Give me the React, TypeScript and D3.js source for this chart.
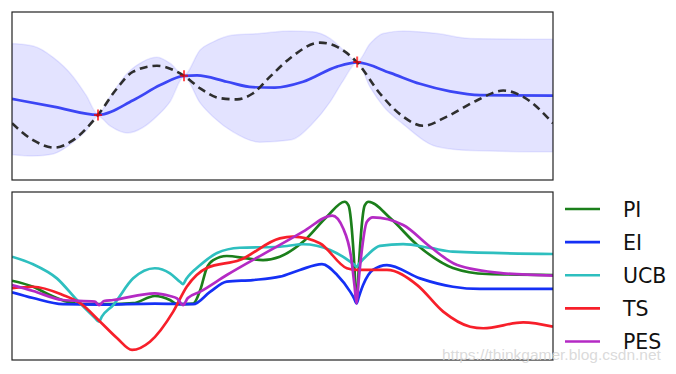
import React, { useRef, useEffect } from 'react';
import * as d3 from 'd3';

type Pt = [number, number];

// ---- top panel: GP posterior with 3 observations ----
const obsX = [1.59, 3.18, 6.38];
const obsY = [-0.45, 0.48, 0.81];

const meanPts: Pt[] = [
    [0, -0.07], [0.79, -0.26], [1.59, -0.45], [2.24, -0.10], [2.74, 0.26], [3.18, 0.48],
    [3.42, 0.49], [3.97, 0.34], [4.45, 0.21], [4.86, 0.20], [5.38, 0.34], [6.01, 0.70],
    [6.38, 0.80], [6.99, 0.55], [7.54, 0.29], [8.10, 0.11], [8.65, 0.02], [10, 0.01],
];

// x, lower, upper
const bandPts: [number, number, number][] = [
    [0, -1.40, 1.25], [0.39, -1.43, 1.19], [0.76, -1.38, 0.92], [1.13, -1.10, 0.46],
    [1.37, -0.83, 0.02], [1.59, -0.48, -0.43], [1.81, -0.71, -0.02], [2.13, -0.88, 0.54],
    [2.42, -0.75, 0.82], [2.68, -0.48, 0.92], [2.92, -0.14, 0.78], [3.18, 0.45, 0.50],
    [3.48, -0.17, 1.10], [3.72, -0.50, 1.29], [4.09, -0.86, 1.45], [4.58, -1.10, 1.49],
    [5.14, -1.05, 1.55], [5.56, -0.65, 1.53], [5.88, -0.14, 1.37], [6.12, 0.36, 1.10],
    [6.38, 0.79, 0.82], [6.62, 0.21, 1.25], [6.86, -0.24, 1.49], [7.23, -0.67, 1.55],
    [7.86, -1.21, 1.49], [8.47, -1.30, 1.37], [10, -1.33, 1.35],
];

const truePts: Pt[] = [
    [0, -0.65], [0.39, -1.05], [0.79, -1.23], [1.13, -1.05], [1.59, -0.45], [1.94, 0.18],
    [2.24, 0.58], [2.68, 0.72], [2.98, 0.62], [3.18, 0.48], [3.48, 0.18], [3.84, -0.05],
    [4.16, -0.08], [4.45, 0.06], [4.77, 0.46], [5.14, 0.90], [5.69, 1.27], [6.01, 1.17],
    [6.38, 0.80], [6.80, 0.06], [7.23, -0.49], [7.60, -0.71], [8.04, -0.49], [8.60, -0.10],
    [9.08, 0.13], [9.45, -0.02], [10, -0.65],
];

// ---- bottom panel: acquisition functions ----
const piPts: Pt[] = [
    [0, 0.472], [0.39, 0.436], [0.70, 0.387], [1.02, 0.347], [1.31, 0.333], [1.81, 0.332],
    [2.24, 0.338], [2.64, 0.381], [2.92, 0.357], [3.05, 0.333], [3.35, 0.336], [3.48, 0.417],
    [3.60, 0.548], [3.72, 0.595], [3.97, 0.619], [4.34, 0.605], [4.64, 0.595], [4.95, 0.615],
    [5.38, 0.704], [5.82, 0.853], [6.15, 0.942], [6.22, 0.92], [6.29, 0.744], [6.33, 0.548],
    [6.35, 0.417], [6.37, 0.347], [6.39, 0.417], [6.41, 0.548], [6.45, 0.744], [6.52, 0.92],
    [6.59, 0.942], [6.99, 0.845], [7.49, 0.685], [8.15, 0.548], [8.78, 0.512], [10, 0.506],
];
const eiPts: Pt[] = [
    [0, 0.403], [0.39, 0.369], [0.94, 0.332], [1.63, 0.330], [2.64, 0.336], [3.35, 0.332],
    [3.66, 0.405], [3.97, 0.466], [4.45, 0.476], [4.95, 0.496], [5.32, 0.536], [5.73, 0.571],
    [6.01, 0.506], [6.25, 0.407], [6.32, 0.369], [6.37, 0.337], [6.41, 0.375], [6.49, 0.446],
    [6.67, 0.536], [6.93, 0.565], [7.54, 0.486], [8.15, 0.436], [8.65, 0.423], [10, 0.423],
];
const ucbPts: Pt[] = [
    [0, 0.615], [0.39, 0.570], [0.83, 0.486], [1.20, 0.357], [1.53, 0.252], [1.61, 0.228],
    [1.66, 0.258], [1.87, 0.327], [2.24, 0.486], [2.64, 0.546], [2.92, 0.516], [3.11, 0.464],
    [3.16, 0.452], [3.22, 0.482], [3.48, 0.565], [3.79, 0.637], [4.21, 0.668], [4.95, 0.674],
    [5.38, 0.689], [5.88, 0.655], [6.25, 0.586], [6.32, 0.569], [6.37, 0.555], [6.41, 0.571],
    [6.57, 0.625], [6.80, 0.679], [7.23, 0.690], [7.73, 0.667], [8.15, 0.645], [10, 0.631],
];
const tsPts: Pt[] = [
    [0, 0.427], [0.39, 0.436], [0.94, 0.387], [1.26, 0.338], [1.63, 0.228], [1.94, 0.131],
    [2.22, 0.060], [2.55, 0.109], [2.98, 0.288], [3.23, 0.436], [3.60, 0.548], [4.21, 0.595],
    [4.95, 0.724], [5.19, 0.734], [5.69, 0.695], [6.19, 0.546], [6.37, 0.536], [6.93, 0.536],
    [7.49, 0.446], [7.97, 0.288], [8.47, 0.198], [8.71, 0.189], [9.45, 0.224], [10, 0.198],
];
const pesPts: Pt[] = [
    [0, 0.446], [0.39, 0.411], [0.94, 0.357], [1.53, 0.348], [1.61, 0.327], [1.70, 0.351],
    [1.87, 0.357], [2.64, 0.397], [2.92, 0.381], [3.05, 0.367], [3.16, 0.327], [3.25, 0.369],
    [3.48, 0.407], [3.97, 0.506], [4.95, 0.685], [5.38, 0.764], [5.92, 0.859], [6.12, 0.784],
    [6.27, 0.607], [6.33, 0.446], [6.37, 0.337], [6.40, 0.446], [6.45, 0.607], [6.56, 0.823],
    [6.67, 0.849], [7.23, 0.804], [7.73, 0.674], [8.23, 0.565], [9.08, 0.516], [10, 0.502],
];

const acqNames = ['PI', 'EI', 'UCB', 'TS', 'PES'];
const acqColors = ['#1b7f1b', '#1530f5', '#2ebfbf', '#f71f2a', '#b42ac4'];
const acqSeries = [piPts, eiPts, ucbPts, tsPts, pesPts];

export default function App() {
    const chartRef = useRef<SVGSVGElement>(null);
    const width = 676, height = 374;

    useEffect(() => {
        const svg = d3.select(chartRef.current);
        svg.selectAll('*').remove();

        const top = { x0: 12, x1: 553, y0: 12, y1: 180 };
        const bot = { x0: 12, x1: 553, y0: 192, y1: 360 };

        const xScale = d3.scaleLinear().domain([0, 10]).range([top.x0, top.x1]);
        const yTop = d3.scaleLinear().domain([-2, 2]).range([top.y1, top.y0]);
        const yBot = d3.scaleLinear().domain([0, 1]).range([bot.y1, bot.y0]);

        const defs = svg.append('defs');
        defs.append('clipPath').attr('id', 'clipTop').append('rect')
            .attr('x', top.x0).attr('y', top.y0).attr('width', top.x1 - top.x0).attr('height', top.y1 - top.y0);
        defs.append('clipPath').attr('id', 'clipBot').append('rect')
            .attr('x', bot.x0).attr('y', bot.y0).attr('width', bot.x1 - bot.x0).attr('height', bot.y1 - bot.y0);

        // top panel
        const gTop = svg.append('g').attr('clip-path', 'url(#clipTop)');

        const band = d3.area<[number, number, number]>()
            .x(d => xScale(d[0])).y0(d => yTop(d[1])).y1(d => yTop(d[2]))
            .curve(d3.curveMonotoneX);
        gTop.append('path').attr('d', band(bandPts))
            .attr('fill', '#0000ff').attr('fill-opacity', 0.11)
            .attr('stroke', '#0000ff').attr('stroke-opacity', 0.08).attr('stroke-width', 1.5);

        const lineTop = d3.line<Pt>().x(d => xScale(d[0])).y(d => yTop(d[1])).curve(d3.curveMonotoneX);

        gTop.append('path').attr('d', lineTop(meanPts))
            .attr('fill', 'none').attr('stroke', '#3c46f5').attr('stroke-width', 2.7);

        gTop.append('path').attr('d', lineTop(truePts))
            .attr('fill', 'none').attr('stroke', '#2e2e2e').attr('stroke-width', 2.6)
            .attr('stroke-dasharray', '8,5');

        obsX.forEach((x, i) => {
            const cx = xScale(x), cy = yTop(obsY[i]);
            gTop.append('path')
                .attr('d', `M${cx - 4},${cy}H${cx + 4}M${cx},${cy - 5.5}V${cy + 5.5}`)
                .attr('stroke', '#ff0000').attr('stroke-opacity', 0.7).attr('stroke-width', 2);
        });

        svg.append('rect')
            .attr('x', top.x0).attr('y', top.y0).attr('width', top.x1 - top.x0).attr('height', top.y1 - top.y0)
            .attr('fill', 'none').attr('stroke', '#222').attr('stroke-width', 1.2);

        // bottom panel
        const gBot = svg.append('g').attr('clip-path', 'url(#clipBot)');
        const lineBot = d3.line<Pt>().x(d => xScale(d[0])).y(d => yBot(d[1])).curve(d3.curveMonotoneX);

        acqSeries.forEach((s, i) => {
            gBot.append('path').attr('d', lineBot(s))
                .attr('fill', 'none').attr('stroke', acqColors[i]).attr('stroke-width', 2.7);
        });

        svg.append('rect')
            .attr('x', bot.x0).attr('y', bot.y0).attr('width', bot.x1 - bot.x0).attr('height', bot.y1 - bot.y0)
            .attr('fill', 'none').attr('stroke', '#222').attr('stroke-width', 1.2);

        // legend
        const legendY = d3.scalePoint<string>().domain(acqNames).range([209, 341.5]);
        const lg = svg.append('g');
        acqNames.forEach((name, i) => {
            const y = legendY(name) as number;
            lg.append('line').attr('x1', 565).attr('x2', 600).attr('y1', y).attr('y2', y)
                .attr('stroke', acqColors[i]).attr('stroke-width', 2.7);
            lg.append('text').attr('x', 623).attr('y', y + 7.5)
                .style('font-family', 'DejaVu Sans').style('font-size', '20.5px').attr('fill', '#111')
                .text(name);
        });

        // watermark
        svg.append('text').attr('x', 442).attr('y', 359.5)
            .style('font-family', 'Liberation Sans').style('font-size', '15.5px')
            .attr('fill', '#d6d6d6').attr('fill-opacity', 0.9)
            .text('https://thinkgamer.blog.csdn.net');
    }, []);

    return (
        <svg width={width} height={height} ref={chartRef}
            style={{ position: 'absolute', left: 0, top: 0, background: '#fff' }} />
    );
}
